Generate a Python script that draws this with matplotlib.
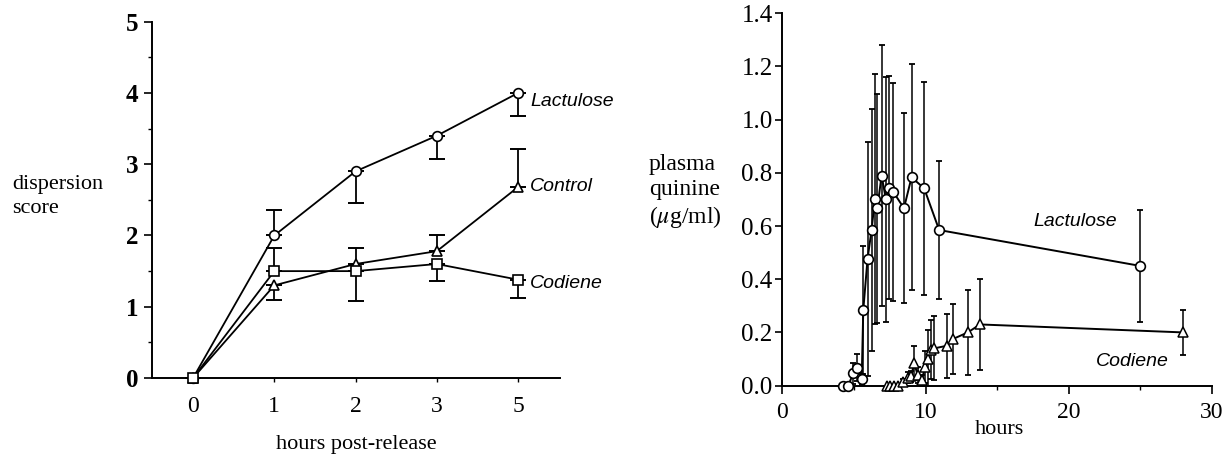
import numpy as np
import matplotlib
matplotlib.use('Agg')
import matplotlib.pyplot as plt
from matplotlib.ticker import MultipleLocator

plt.rcParams['font.family'] = 'Liberation Serif'
plt.rcParams['mathtext.fontset'] = 'stix'

# left panel: dispersion score
cats = ['0', '1', '2', '3', '5']
lac_score = [0, 2.0, 2.9, 3.4, 4.0]
lac_lo = [0, 0, 0.45, 0.33, 0.32]
lac_hi = [0, 0.36, 0, 0, 0]
ctl_score = [0, 1.3, 1.6, 1.78, 2.68]
ctl_lo = [0, 0.2, 0, 0, 0]
ctl_hi = [0, 0, 0.23, 0.23, 0.54]
cod_score = [0, 1.5, 1.5, 1.6, 1.38]
cod_lo = [0, 0, 0.42, 0.24, 0.26]
cod_hi = [0, 0.32, 0, 0, 0]

# right panel: plasma quinine
lac_h = [4.25, 4.6, 4.95, 5.23, 5.54, 5.65, 5.95, 6.23, 6.46, 6.63, 6.93,
         7.23, 7.44, 7.74, 8.49, 9.02, 9.9, 10.95, 25.0]
lac_q = [0.0, 0.0, 0.046, 0.067, 0.024, 0.284, 0.477, 0.585, 0.70, 0.667, 0.79,
         0.70, 0.744, 0.729, 0.667, 0.783, 0.742, 0.585, 0.45]
lac_err = [0, 0, 0.04, 0.05, 0.02, 0.24, 0.44, 0.455, 0.47, 0.43, 0.49,
           0.46, 0.42, 0.41, 0.357, 0.425, 0.40, 0.26, 0.21]
cod_h = [7.3, 7.55, 7.8, 8.1, 8.45, 8.75, 9.0, 9.2, 9.45, 9.75, 9.95, 10.15,
         10.35, 10.6, 11.5, 11.9, 12.95, 13.8, 28.0]
cod_q = [0, 0, 0, 0, 0.015, 0.03, 0.035, 0.085, 0.04, 0.02, 0.07, 0.10,
         0.135, 0.14, 0.15, 0.175, 0.20, 0.23, 0.20]
cod_err = [0, 0, 0, 0, 0.01, 0.02, 0.02, 0.065, 0.03, 0.02, 0.06, 0.11,
           0.11, 0.12, 0.12, 0.13, 0.16, 0.17, 0.085]

fig = plt.figure(figsize=(12.23, 4.55), dpi=100)

# ---- left
ax1 = fig.add_axes([0.1243, 0.1692, 0.3332, 0.7831])
xi = np.arange(len(cats))
for v, lo, hi, m in [(lac_score, lac_lo, lac_hi, 'o'),
                     (ctl_score, ctl_lo, ctl_hi, '^'),
                     (cod_score, cod_lo, cod_hi, 's')]:
    ax1.errorbar(xi, v, yerr=[lo, hi], fmt='none', ecolor='black',
                 elinewidth=1.3, capsize=5.5, capthick=1.4, zorder=2)
    ax1.plot(xi, v, color='black', lw=1.3, marker=m, ms=7 if m != 's' else 6.5,
             mfc='white', mec='black', mew=1.2, zorder=3, clip_on=False)

ax1.set_xlim(-0.505, 4.51)
ax1.set_ylim(0, 5)
ax1.set_xticks(xi)
ax1.set_xticklabels(cats)
ax1.yaxis.set_major_locator(MultipleLocator(1))
ax1.yaxis.set_minor_locator(MultipleLocator(0.5))
for s in ['top', 'right']:
    ax1.spines[s].set_visible(False)
for s in ['left', 'bottom']:
    ax1.spines[s].set_linewidth(1.4)
ax1.tick_params(axis='y', which='major', length=6, width=1.2, labelsize=18, pad=4)
ax1.tick_params(axis='y', which='minor', length=3, width=1.0)
ax1.tick_params(axis='x', length=3, width=1.0, labelsize=17, pad=10)
for t in ax1.get_yticklabels():
    t.set_fontweight('bold')

lab = dict(family='Liberation Sans', style='italic', fontsize=14, va='center', ha='left')
ax1.text(4.15, 3.88, 'Lactulose', **lab)
ax1.text(4.14, 2.69, 'Control', **lab)
ax1.text(4.14, 1.33, 'Codiene', **lab)

fig.text(0.0098, 0.568, 'dispersion\nscore', fontsize=16, ha='left', va='center',
         multialignment='left', linespacing=1.3)
fig.text(0.291, 0.024, 'hours post-release', fontsize=16, ha='center', va='center')

# ---- right
ax2 = fig.add_axes([0.6397, 0.1525, 0.3513, 0.8183])
ax2.errorbar(lac_h, lac_q, yerr=lac_err, fmt='none', ecolor='black',
             elinewidth=1.1, capsize=2.5, capthick=1.3, zorder=2)
ax2.errorbar(cod_h, cod_q, yerr=cod_err, fmt='none', ecolor='black',
             elinewidth=1.1, capsize=2.5, capthick=1.3, zorder=2)
ax2.plot(lac_h, lac_q, color='black', lw=1.4, marker='o', ms=7,
         mfc='white', mec='black', mew=1.2, zorder=3, clip_on=False)
ax2.plot(cod_h, cod_q, color='black', lw=1.4, marker='^', ms=6.5,
         mfc='white', mec='black', mew=1.1, zorder=3, clip_on=False)

ax2.set_xlim(0, 30)
ax2.set_ylim(0, 1.4)
ax2.xaxis.set_major_locator(MultipleLocator(10))
ax2.xaxis.set_minor_locator(MultipleLocator(5))
ax2.yaxis.set_major_locator(MultipleLocator(0.2))
ax2.yaxis.set_major_formatter(matplotlib.ticker.FormatStrFormatter('%.1f'))
for s in ['top', 'right']:
    ax2.spines[s].set_visible(False)
for s in ['left', 'bottom']:
    ax2.spines[s].set_linewidth(1.4)
ax2.tick_params(axis='y', length=5, width=1.2, labelsize=18, pad=2)
ax2.tick_params(axis='x', which='major', length=6, width=1.2, labelsize=17, pad=6)
ax2.tick_params(axis='x', which='minor', length=3, width=1.0)

ax2.text(17.5, 0.617, 'Lactulose', **lab)
ax2.text(21.9, 0.09, 'Codiene', **lab)

fig.text(0.5307, 0.578, 'plasma\nquinine\n($\\mu$g/ml)', fontsize=17, ha='left',
         va='center', multialignment='left', linespacing=1.25)
fig.text(0.817, 0.055, 'hours', fontsize=16, ha='center', va='center')

fig.savefig('out.png', dpi=100)
